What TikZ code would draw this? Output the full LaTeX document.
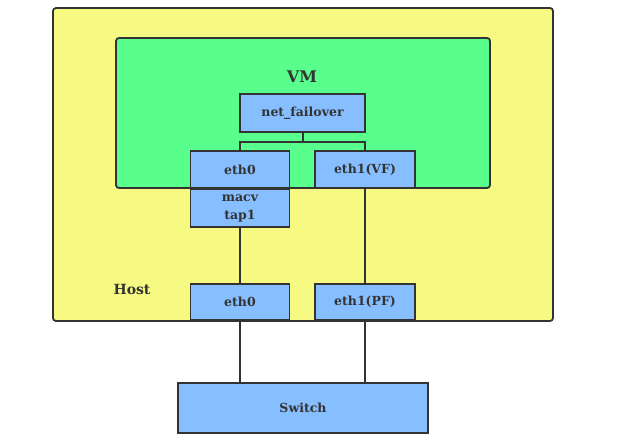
\documentclass[tikz,border=0pt]{standalone}
\usepackage{fontspec}
\setmainfont{DejaVu Serif}
\definecolor{hostY}{RGB}{246,250,130}
\definecolor{vmG}{RGB}{89,255,140}
\definecolor{boxB}{RGB}{135,190,255}
\definecolor{edge}{RGB}{51,51,51}
\begin{document}
\begin{tikzpicture}[x=1pt,y=-1pt,
  box/.style={draw=edge,line width=1.8pt,fill=boxB,text=edge,font=\bfseries\fontsize{12.5}{14}\selectfont,inner sep=0pt,align=center},
  conn/.style={draw=edge,line width=1.8pt},
  lbl/.style={text=edge,font=\bfseries\fontsize{14}{17}\selectfont}]
\useasboundingbox (0,0) rectangle (621,444);
\fill[white] (0,0) rectangle (621,444);
\draw[draw=edge,line width=1.8pt,fill=hostY,rounded corners=3pt] (53,8) rectangle (553,321);
\draw[draw=edge,line width=1.8pt,fill=vmG,rounded corners=3pt] (116,38) rectangle (490,188);
\node[lbl,font=\bfseries\fontsize{16}{18}\selectfont] (vm) at (302,77) {VM};
\node[lbl] (host) at (132,289) {Host};
\node[box,minimum width=125pt,minimum height=38pt] (nf) at (302.5,113) {net\_failover};
\node[box,minimum width=99pt,minimum height=37pt] (veth0) at (240,169.5) {eth0};
\node[box,minimum width=100pt,minimum height=37pt] (veth1) at (365,169.5) {eth1(VF)};
\node[box,minimum width=99pt,minimum height=38pt,font=\bfseries\fontsize{12.5}{18}\selectfont] (mac) at (240,208) {macv\\tap1};
\node[box,minimum width=99pt,minimum height=36pt] (heth0) at (240,302) {eth0};
\node[box,minimum width=100pt,minimum height=36pt] (heth1) at (365,302) {eth1(PF)};
\node[box,minimum width=250pt,minimum height=50pt] (sw) at (303,408) {Switch};
\coordinate (j) at (303,142);
\draw[conn] (nf.south -| j) -- (j);
\draw[conn] (veth0.north) |- (j) -| (veth1.north);
\draw[conn] (mac.south) -- (heth0.north);
\draw[conn] (veth1.south) -- (heth1.north);
\draw[conn] (heth0.south) -- (sw.north -| heth0.south);
\draw[conn] (heth1.south) -- (sw.north -| heth1.south);
\end{tikzpicture}
\end{document}
